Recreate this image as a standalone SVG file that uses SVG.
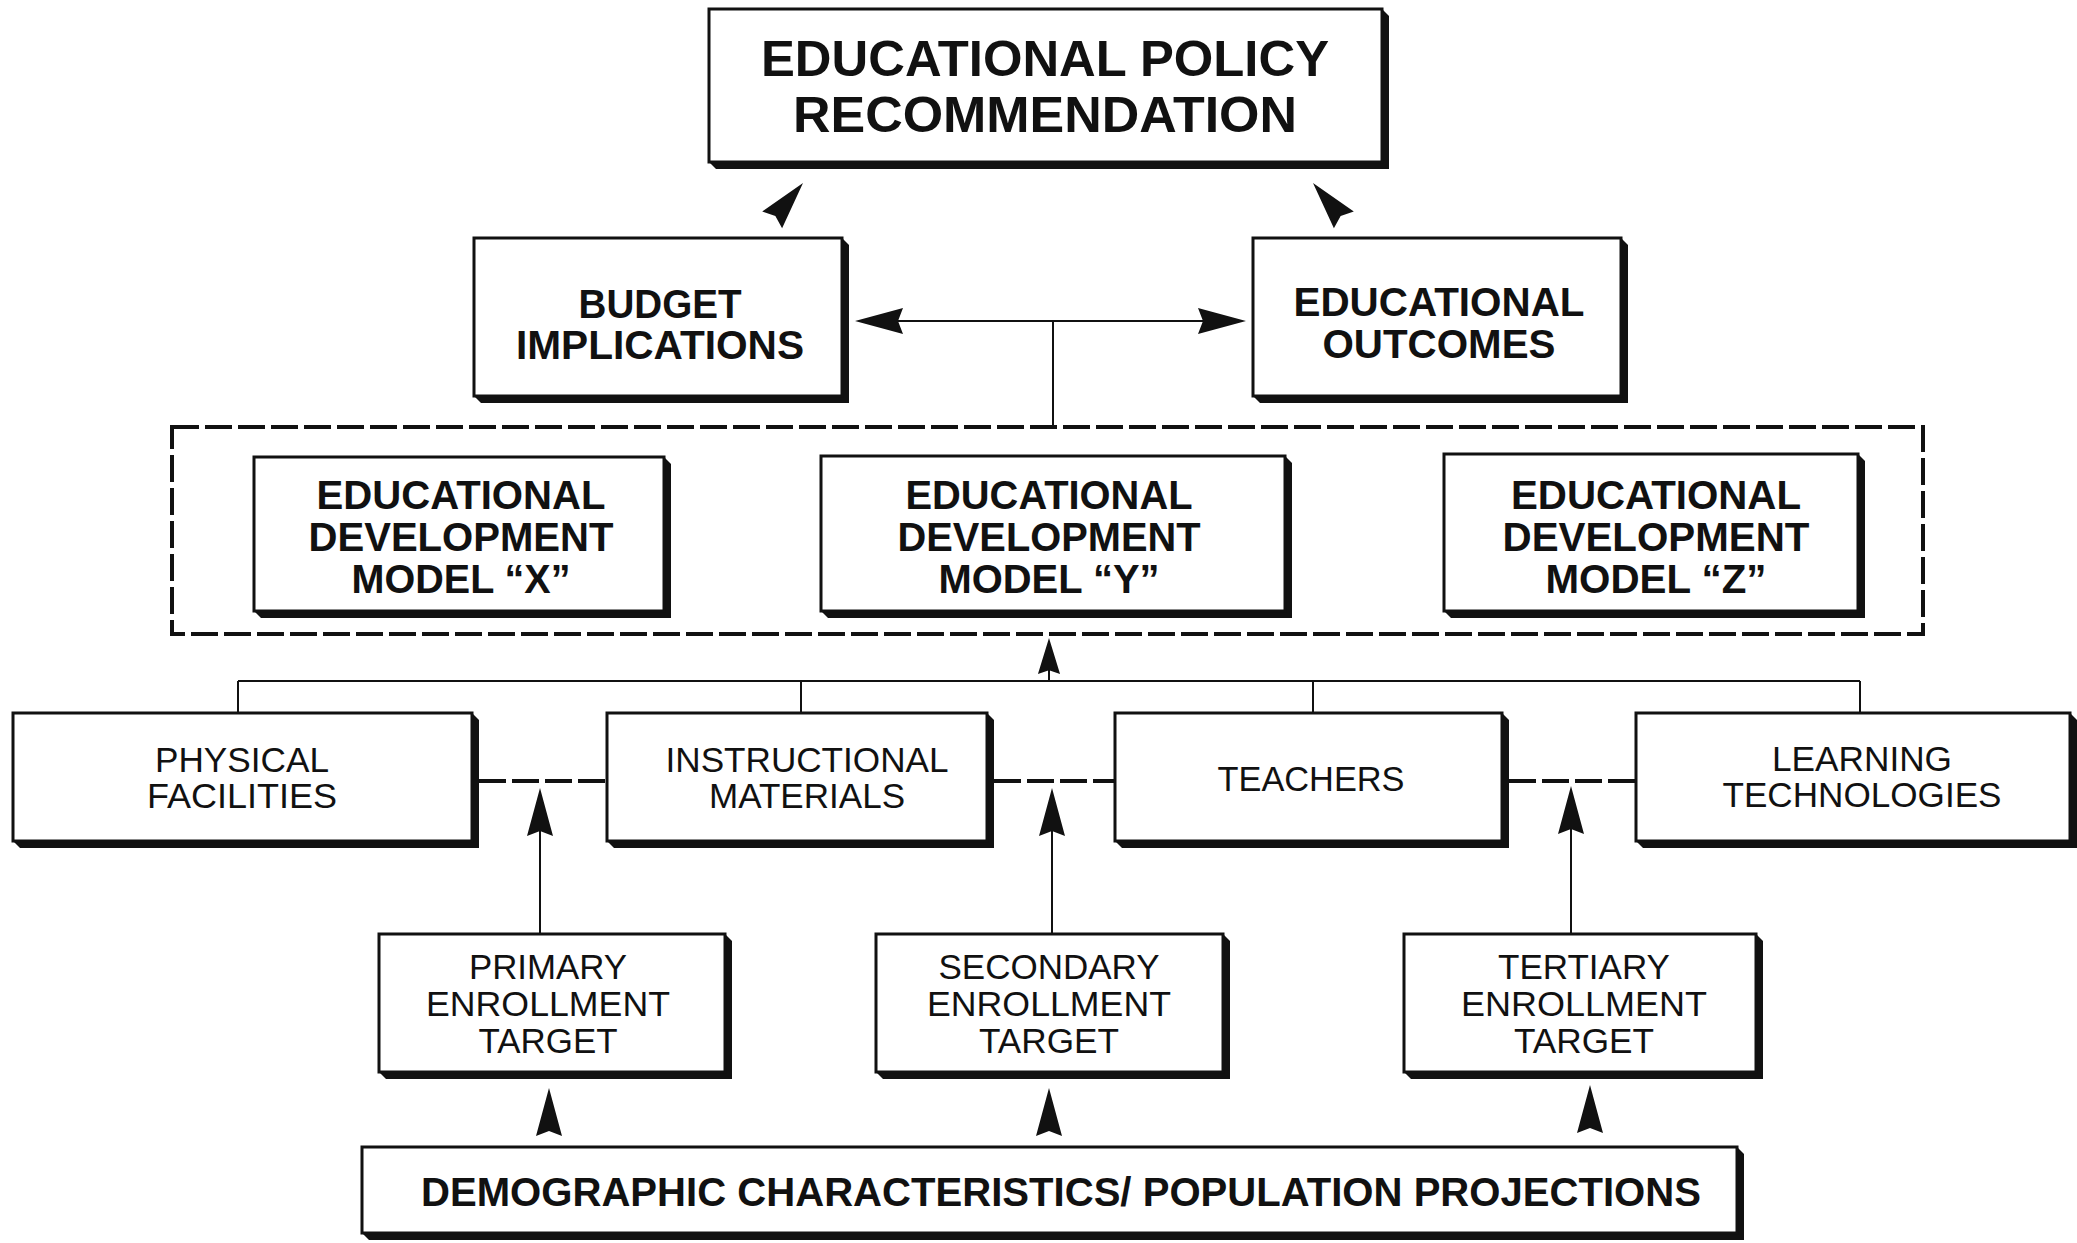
<svg xmlns="http://www.w3.org/2000/svg" width="2077" height="1243" viewBox="0 0 2077 1243">
  <defs>
    <style>
      .box{fill:#fff;stroke:#111;stroke-width:3}
      .shade{fill:#111}
      .tb{font-family:"Liberation Sans",Arial,sans-serif;font-weight:bold;fill:#111;text-anchor:middle}
      .tr{font-family:"Liberation Sans",Arial,sans-serif;fill:#111;text-anchor:middle}
      .ln{stroke:#111;stroke-width:2;fill:none}
      .dash{stroke:#111;stroke-width:4;fill:none;stroke-dasharray:27 6}
      .ah{fill:#111}
    </style>
    <!-- barbed arrowhead, tip at origin, pointing up -->
    <path id="ah" d="M0,0 L13,48 L0,43 L-13,48 Z"/>
    <!-- sparse stipple for the model group background -->
    <pattern id="stipple" width="37" height="29" patternUnits="userSpaceOnUse">
      <rect width="37" height="29" fill="#fbfbfb"/>
      <circle cx="3" cy="4" r="0.9" fill="#444"/>
      <circle cx="17" cy="2" r="0.8" fill="#666"/>
      <circle cx="29" cy="9" r="0.9" fill="#444"/>
      <circle cx="9" cy="15" r="0.8" fill="#666"/>
      <circle cx="22" cy="18" r="0.9" fill="#444"/>
      <circle cx="34" cy="22" r="0.8" fill="#666"/>
      <circle cx="5" cy="25" r="0.9" fill="#444"/>
      <circle cx="15" cy="26" r="0.7" fill="#777"/>
      <circle cx="27" cy="27" r="0.8" fill="#666"/>
      <circle cx="12" cy="8" r="0.7" fill="#777"/>
      <circle cx="24" cy="6" r="0.7" fill="#777"/>
      <circle cx="32" cy="15" r="0.7" fill="#777"/>
      <circle cx="19" cy="11" r="0.7" fill="#666"/>
      <circle cx="1" cy="19" r="0.7" fill="#666"/>
      <circle cx="35" cy="3" r="0.7" fill="#777"/>
      <circle cx="13" cy="21" r="0.7" fill="#666"/>
    </pattern>
  </defs>

  <rect width="2077" height="1243" fill="#fff"/>

  <!-- dashed group frame around the three development models -->
  <g id="model-group">
    <rect x="172" y="427" width="1751" height="207" fill="url(#stipple)" class="dash"/>
  </g>

  <g id="connectors">
    <!-- budget / outcomes feed the policy box -->
    <use href="#ah" class="ah" transform="translate(803,183) rotate(40)"/>
    <use href="#ah" class="ah" transform="translate(1313,183) rotate(-40)"/>
    <!-- double arrow between budget and outcomes -->
    <line class="ln" x1="890" y1="321" x2="1210" y2="321"/>
    <use href="#ah" class="ah" transform="translate(855,321) rotate(-90)"/>
    <use href="#ah" class="ah" transform="translate(1246,321) rotate(90)"/>
    <line class="ln" x1="1053" y1="321" x2="1053" y2="427"/>
    <!-- resources into the models -->
    <line class="ln" x1="1049" y1="681" x2="1049" y2="668"/>
    <use href="#ah" class="ah" transform="translate(1049,638) scale(0.85,0.75)"/>
    <line class="ln" x1="238" y1="681" x2="1860" y2="681"/>
    <line class="ln" x1="238" y1="681" x2="238" y2="713"/>
    <line class="ln" x1="801" y1="681" x2="801" y2="713"/>
    <line class="ln" x1="1313" y1="681" x2="1313" y2="713"/>
    <line class="ln" x1="1860" y1="681" x2="1860" y2="713"/>
    <!-- dashed links between resource boxes -->
    <line class="dash" x1="479" y1="781" x2="607" y2="781"/>
    <line class="dash" x1="994" y1="781" x2="1115" y2="781"/>
    <line class="dash" x1="1509" y1="781" x2="1636" y2="781"/>
    <!-- enrollment targets up to the links -->
    <line class="ln" x1="540" y1="934" x2="540" y2="826"/>
    <use href="#ah" class="ah" transform="translate(540,788)"/>
    <line class="ln" x1="1052" y1="934" x2="1052" y2="826"/>
    <use href="#ah" class="ah" transform="translate(1052,788)"/>
    <line class="ln" x1="1571" y1="934" x2="1571" y2="824"/>
    <use href="#ah" class="ah" transform="translate(1571,786)"/>
    <!-- demographics feed each target -->
    <use href="#ah" class="ah" transform="translate(549,1088)"/>
    <use href="#ah" class="ah" transform="translate(1049,1088)"/>
    <use href="#ah" class="ah" transform="translate(1590,1085)"/>
  </g>

  <g id="policy">
    <polygon class="shade" points="1382,9 1389,16 1389,169 716,169 709,162"/>
    <rect class="box" x="709" y="9" width="673" height="153"/>
    <text class="tb" font-size="50" x="1045" y="76" textLength="568" lengthAdjust="spacingAndGlyphs">EDUCATIONAL POLICY</text>
    <text class="tb" font-size="50" x="1045" y="132" textLength="504" lengthAdjust="spacingAndGlyphs">RECOMMENDATION</text>
  </g>

  <g id="budget">
    <polygon class="shade" points="842,238 849,245 849,403 481,403 474,396"/>
    <rect class="box" x="474" y="238" width="368" height="158"/>
    <text class="tb" font-size="40" x="660" y="318" textLength="163" lengthAdjust="spacingAndGlyphs">BUDGET</text>
    <text class="tb" font-size="40" x="660" y="359" textLength="288" lengthAdjust="spacingAndGlyphs">IMPLICATIONS</text>
  </g>

  <g id="outcomes">
    <polygon class="shade" points="1621,238 1628,245 1628,403 1260,403 1253,396"/>
    <rect class="box" x="1253" y="238" width="368" height="158"/>
    <text class="tb" font-size="40" x="1439" y="316" textLength="291" lengthAdjust="spacingAndGlyphs">EDUCATIONAL</text>
    <text class="tb" font-size="40" x="1439" y="358" textLength="233" lengthAdjust="spacingAndGlyphs">OUTCOMES</text>
  </g>

  <g id="model-x">
    <polygon class="shade" points="664,457 671,464 671,618 261,618 254,611"/>
    <rect class="box" x="254" y="457" width="410" height="154"/>
    <text class="tb" font-size="40" x="461" y="509" textLength="289" lengthAdjust="spacingAndGlyphs">EDUCATIONAL</text>
    <text class="tb" font-size="40" x="461" y="551" textLength="305" lengthAdjust="spacingAndGlyphs">DEVELOPMENT</text>
    <text class="tb" font-size="40" x="461" y="593" textLength="219" lengthAdjust="spacingAndGlyphs">MODEL “X”</text>
  </g>

  <g id="model-y">
    <polygon class="shade" points="1285,456 1292,463 1292,618 828,618 821,611"/>
    <rect class="box" x="821" y="456" width="464" height="155"/>
    <text class="tb" font-size="40" x="1049" y="509" textLength="287" lengthAdjust="spacingAndGlyphs">EDUCATIONAL</text>
    <text class="tb" font-size="40" x="1049" y="551" textLength="303" lengthAdjust="spacingAndGlyphs">DEVELOPMENT</text>
    <text class="tb" font-size="40" x="1049" y="593" textLength="221" lengthAdjust="spacingAndGlyphs">MODEL “Y”</text>
  </g>

  <g id="model-z">
    <polygon class="shade" points="1858,454 1865,461 1865,618 1451,618 1444,611"/>
    <rect class="box" x="1444" y="454" width="414" height="157"/>
    <text class="tb" font-size="40" x="1656" y="509" textLength="290" lengthAdjust="spacingAndGlyphs">EDUCATIONAL</text>
    <text class="tb" font-size="40" x="1656" y="551" textLength="307" lengthAdjust="spacingAndGlyphs">DEVELOPMENT</text>
    <text class="tb" font-size="40" x="1656" y="593" textLength="221" lengthAdjust="spacingAndGlyphs">MODEL “Z”</text>
  </g>

  <g id="physical-facilities">
    <polygon class="shade" points="472,713 479,720 479,848 20,848 13,841"/>
    <rect class="box" x="13" y="713" width="459" height="128"/>
    <text class="tr" font-size="35" x="242" y="772" textLength="174" lengthAdjust="spacingAndGlyphs">PHYSICAL</text>
    <text class="tr" font-size="35" x="242" y="808" textLength="190" lengthAdjust="spacingAndGlyphs">FACILITIES</text>
  </g>

  <g id="instructional-materials">
    <polygon class="shade" points="987,713 994,720 994,848 614,848 607,841"/>
    <rect class="box" x="607" y="713" width="380" height="128"/>
    <text class="tr" font-size="35" x="807" y="772" textLength="283" lengthAdjust="spacingAndGlyphs">INSTRUCTIONAL</text>
    <text class="tr" font-size="35" x="807" y="808" textLength="196" lengthAdjust="spacingAndGlyphs">MATERIALS</text>
  </g>

  <g id="teachers">
    <polygon class="shade" points="1502,713 1509,720 1509,848 1122,848 1115,841"/>
    <rect class="box" x="1115" y="713" width="387" height="128"/>
    <text class="tr" font-size="35" x="1311" y="791" textLength="187" lengthAdjust="spacingAndGlyphs">TEACHERS</text>
  </g>

  <g id="learning-technologies">
    <polygon class="shade" points="2070,713 2077,720 2077,848 1643,848 1636,841"/>
    <rect class="box" x="1636" y="713" width="434" height="128"/>
    <text class="tr" font-size="35" x="1862" y="771" textLength="180" lengthAdjust="spacingAndGlyphs">LEARNING</text>
    <text class="tr" font-size="35" x="1862" y="807" textLength="279" lengthAdjust="spacingAndGlyphs">TECHNOLOGIES</text>
  </g>

  <g id="primary-target">
    <polygon class="shade" points="725,934 732,941 732,1079 386,1079 379,1072"/>
    <rect class="box" x="379" y="934" width="346" height="138"/>
    <text class="tr" font-size="35" x="548" y="979" textLength="158" lengthAdjust="spacingAndGlyphs">PRIMARY</text>
    <text class="tr" font-size="35" x="548" y="1016" textLength="244" lengthAdjust="spacingAndGlyphs">ENROLLMENT</text>
    <text class="tr" font-size="35" x="548" y="1053" textLength="139" lengthAdjust="spacingAndGlyphs">TARGET</text>
  </g>

  <g id="secondary-target">
    <polygon class="shade" points="1223,934 1230,941 1230,1079 883,1079 876,1072"/>
    <rect class="box" x="876" y="934" width="347" height="138"/>
    <text class="tr" font-size="35" x="1049" y="979" textLength="221" lengthAdjust="spacingAndGlyphs">SECONDARY</text>
    <text class="tr" font-size="35" x="1049" y="1016" textLength="244" lengthAdjust="spacingAndGlyphs">ENROLLMENT</text>
    <text class="tr" font-size="35" x="1049" y="1053" textLength="140" lengthAdjust="spacingAndGlyphs">TARGET</text>
  </g>

  <g id="tertiary-target">
    <polygon class="shade" points="1756,934 1763,941 1763,1079 1411,1079 1404,1072"/>
    <rect class="box" x="1404" y="934" width="352" height="138"/>
    <text class="tr" font-size="35" x="1584" y="979" textLength="172" lengthAdjust="spacingAndGlyphs">TERTIARY</text>
    <text class="tr" font-size="35" x="1584" y="1016" textLength="246" lengthAdjust="spacingAndGlyphs">ENROLLMENT</text>
    <text class="tr" font-size="35" x="1584" y="1053" textLength="140" lengthAdjust="spacingAndGlyphs">TARGET</text>
  </g>

  <g id="demographics">
    <polygon class="shade" points="1737,1147 1744,1154 1744,1240 369,1240 362,1233"/>
    <rect class="box" x="362" y="1147" width="1375" height="86"/>
    <text class="tb" font-size="40" x="1061" y="1206" textLength="1280" lengthAdjust="spacingAndGlyphs">DEMOGRAPHIC CHARACTERISTICS/ POPULATION PROJECTIONS</text>
  </g>
</svg>
